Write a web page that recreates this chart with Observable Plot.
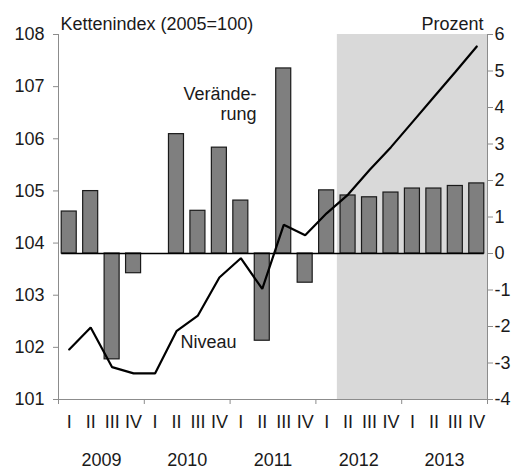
<!DOCTYPE html>
<html>
<head>
<meta charset="utf-8">
<script src="https://cdn.jsdelivr.net/npm/d3@7"></script>
<script src="https://cdn.jsdelivr.net/npm/@observablehq/plot@0.6"></script>
<style>
  html, body { margin: 0; padding: 0; background: #fff; }
</style>
</head>
<body>
<div id="chart"></div>
<script>
// ---- data ----
const years = ["2009", "2010", "2011", "2012", "2013"];
const quarters = ["I", "II", "III", "IV"];
// Kettenindex (2005=100), left axis
const niveau = [
  101.96, 102.38, 101.62, 101.50,
  101.50, 102.31, 102.61, 103.34,
  103.71, 103.12, 104.35, 104.15,
  104.57, 104.93, 105.40, 105.84,
  106.32, 106.80, 107.28, 107.77
];
// Veränderung in Prozent, right axis
const veraenderung = [
  1.15, 1.71, -2.90, -0.54,
  null, 3.27, 1.17, 2.90,
  1.45, -2.39, 5.07, -0.80,
  1.73, 1.59, 1.54, 1.67,
  1.78, 1.78, 1.85, 1.92
];
const leftTicks = [101, 102, 103, 104, 105, 106, 107, 108];
const rightTicks = [-4, -3, -2, -1, 0, 1, 2, 3, 4, 5, 6];
const forecastStart = 13; // index of 2012 Q2

// ---- secondary axis mapping: percent -4..6 <-> index 101..108 ----
const pctDomain = [-4, 6];
const idxDomain = [101, 108];
const toLeft = p => idxDomain[0] + (p - pctDomain[0]) * (idxDomain[1] - idxDomain[0]) / (pctDomain[1] - pctDomain[0]);
const toPct = v => pctDomain[0] + (v - idxDomain[0]) * (pctDomain[1] - pctDomain[0]) / (idxDomain[1] - idxDomain[0]);
const base = toLeft(0);

const rows = niveau.map((n, i) => ({
  i, year: years[Math.floor(i / 4)], q: quarters[i % 4], niveau: n, pct: veraenderung[i]
}));
const nQ = rows.length;
const pad = 0.15;

const grey = "#8c8c8c";
const ink = "#1a1a1a";
const fs = 18;

const chart = Plot.plot({
  width: 521,
  height: 470,
  marginTop: 34,
  marginBottom: 71,
  marginLeft: 58,
  marginRight: 34,
  style: { fontFamily: "'Liberation Sans', Arial, sans-serif", fontSize: fs + "px", color: ink, background: "#fff" },
  x: { type: "linear", domain: [0, nQ], axis: null },
  y: { domain: idxDomain, axis: null },
  marks: [
    // forecast shading
    Plot.rect([forecastStart], { x1: d => d, x2: nQ, y1: idxDomain[0], y2: idxDomain[1], fill: "#d9d9d9" }),
    // bars (percent change)
    Plot.rect(rows.filter(d => d.pct != null), {
      x1: d => d.i + pad, x2: d => d.i + 1 - pad,
      y1: base, y2: d => toLeft(d.pct),
      fill: "#7f7f7f", stroke: ink, strokeWidth: 1.2
    }),
    // zero line
    Plot.ruleY([base], { x1: pad, x2: nQ - pad, stroke: "#000", strokeWidth: 1.3 }),
    // axis lines
    Plot.ruleX([0, nQ], { stroke: grey, strokeWidth: 1 }),
    Plot.ruleY([idxDomain[0]], { stroke: grey, strokeWidth: 1 }),
    // level line
    Plot.line(rows, { x: d => d.i + 0.5, y: "niveau", stroke: "#000", strokeWidth: 2.2, strokeLinejoin: "miter" }),
    // left axis
    Plot.axisY(leftTicks, { anchor: "left", tickSize: 5, tickPadding: 9, stroke: grey, fill: ink, fontSize: fs, tickFormat: d => String(d), label: null }),
    // right axis
    Plot.axisY(rightTicks.map(toLeft), { anchor: "right", tickSize: 5, tickPadding: 2, stroke: grey, fill: ink, fontSize: fs, tickFormat: d => String(Math.round(toPct(d))), label: null }),
    // bottom year boundary ticks
    Plot.axisX(d3.range(0, nQ + 1, 4), { tickSize: 5, stroke: grey, tickFormat: () => "", label: null }),
    // quarter labels
    Plot.axisX(rows.map(d => d.i + 0.5), { tickSize: 0, tickPadding: 16, fill: ink, fontSize: fs, tickFormat: d => quarters[Math.floor(d) % 4], label: null }),
    // year labels
    Plot.axisX(years.map((y, j) => j * 4 + 2), { tickSize: 0, tickPadding: 54, fill: ink, fontSize: fs, tickFormat: d => years[Math.round((d - 2) / 4)], label: null }),
    // titles
    Plot.text(["Kettenindex (2005=100)"], { text: d => d, frameAnchor: "top-left", textAnchor: "start", lineAnchor: "top", dx: 2, dy: -17, fontSize: fs, fill: ink }),
    Plot.text(["Prozent"], { text: d => d, frameAnchor: "top-right", textAnchor: "end", lineAnchor: "top", dx: -4, dy: -17, fontSize: fs, fill: ink }),
    // annotations
    Plot.text(["Verände-\nrung"], { text: d => d, x: 9.23, y: 107.02, textAnchor: "end", lineAnchor: "top", lineHeight: 1.12, fontSize: fs, fill: ink }),
    Plot.text(["Niveau"], { text: d => d, x: 5.69, y: 102.10, textAnchor: "start", lineAnchor: "middle", fontSize: fs, fill: ink })
  ]
});
document.getElementById("chart").appendChild(chart);
</script>
</body>
</html>
